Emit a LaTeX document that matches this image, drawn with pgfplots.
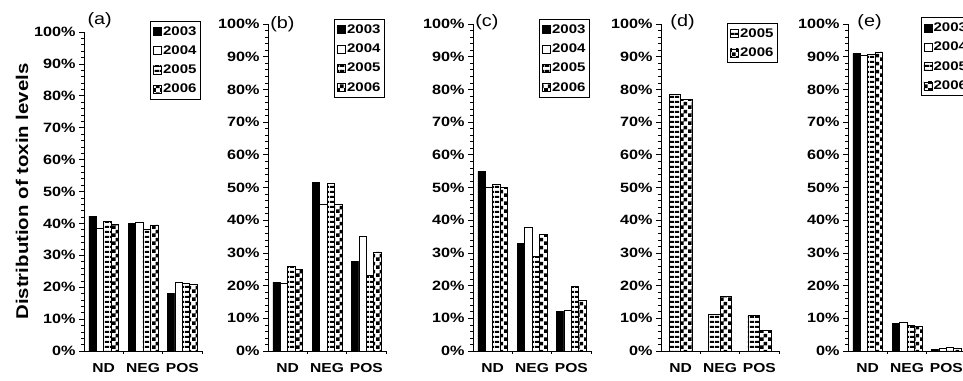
\documentclass[border=0pt]{standalone}
\usepackage{pgfplots}
\pgfplotsset{compat=1.18}
\usepackage{fontspec}
\setmainfont{Liberation Sans}[FakeStretch=1.2]
\usetikzlibrary{patterns}

\pgfdeclarepatternformonly{hstripes}{\pgfpointorigin}{\pgfqpoint{5pt}{4.6pt}}{\pgfqpoint{5pt}{4.6pt}}{\pgfpathrectangle{\pgfpointorigin}{\pgfqpoint{5pt}{2.4pt}}\pgfusepath{fill}}
\pgfdeclarepatternformonly{checker}{\pgfpointorigin}{\pgfqpoint{8pt}{8pt}}{\pgfqpoint{8pt}{8pt}}{\pgfpathrectangle{\pgfpointorigin}{\pgfqpoint{4pt}{4pt}}\pgfpathrectangle{\pgfqpoint{4pt}{4pt}}{\pgfqpoint{4pt}{4pt}}\pgfusepath{fill}}

\tikzset{plab/.style={anchor=west, font=\fontsize{16.5}{18}\selectfont}}

\pgfplotsset{
  panel/.style={
    scale only axis, width=118pt, height=327pt,
    ybar=0pt, bar width=7.4pt,
    xmin=-0.5, xmax=2.5, ymin=0, ymax=100,
    axis x line=bottom, axis y line=left,
    axis line style={-, line width=0.9pt},
    xtick={0,1,2}, xticklabels={ND,NEG,POS},
    major x tick style={draw=none},
    minor xtick={0.5,1.5,2.5},
    ytick={0,10,...,100},
    yticklabels={0\%,10\%,20\%,30\%,40\%,50\%,60\%,70\%,80\%,90\%,100\%},
    minor y tick num=4,
    tick align=outside, major tick length=5pt, minor tick length=3pt,
    tick style={black, line width=0.6pt},
    yticklabel style={font=\fontsize{13.5}{15}\selectfont\bfseries},
    xticklabel style={font=\fontsize{13}{15}\selectfont\bfseries, yshift=-4pt},
    legend style={anchor=north west, draw=black, line width=1pt,
      font=\fontsize{12.5}{14}\selectfont\bfseries, row sep=6pt,
      inner xsep=2.5pt, inner ysep=3.5pt, cells={anchor=west},
      nodes={inner sep=1.5pt}},
    legend cell align=left,
    clip=false,
  },
  limg/.style={legend image code/.code={\draw[##1, line width=0.5pt] (0pt,-4pt) rectangle (8pt,4pt);}},
  s03/.style={fill=black, draw=black, line width=0.5pt, limg},
  s04/.style={fill=white, draw=black, line width=0.5pt, limg},
  s05/.style={pattern=hstripes, draw=black, line width=0.5pt, limg},
  s06/.style={pattern=checker, draw=black, line width=0.5pt, limg},
}

\begin{document}
\begin{tikzpicture}[x=1pt,y=1pt]
\useasboundingbox (0,0) rectangle (963,380);

% (a)
\begin{axis}[panel, height=319pt, at={(84pt,29pt)}, anchor=south west,
  ylabel={Distribution of toxin levels},
  ylabel style={font=\fontsize{17}{19}\selectfont\bfseries, yshift=-1pt},
  legend style={at={(rel axis cs:0.56,1.035)}}]
\addplot[s03] coordinates {(0,42.3) (1,40.1) (2,18.0)};
\addplot[s04] coordinates {(0,38.5) (1,40.5) (2,21.6)};
\addplot[s05] coordinates {(0,40.6) (1,38.2) (2,21.3)};
\addplot[s06] coordinates {(0,39.8) (1,39.5) (2,20.8)};
\legend{2003,2004,2005,2006}
\node[plab] at (rel axis cs:0.0,1.037) {(a)};
\end{axis}

% (b)
\begin{axis}[panel, at={(268pt,29pt)}, anchor=south west,
  legend style={at={(rel axis cs:0.56,1.015)}}]
\addplot[s03] coordinates {(0,21.1) (1,51.5) (2,27.3)};
\addplot[s04] coordinates {(0,20.8) (1,44.8) (2,35.0)};
\addplot[s05] coordinates {(0,26.0) (1,51.2) (2,23.1)};
\addplot[s06] coordinates {(0,25.0) (1,44.8) (2,30.3)};
\legend{2003,2004,2005,2006}
\node[plab] at (rel axis cs:-0.01,1) {(b)};
\end{axis}

% (c)
\begin{axis}[panel, at={(473pt,29pt)}, anchor=south west,
  legend style={at={(rel axis cs:0.56,1.015)}}]
\addplot[s03] coordinates {(0,55.0) (1,32.8) (2,12.2)};
\addplot[s04] coordinates {(0,50.0) (1,37.8) (2,12.6)};
\addplot[s05] coordinates {(0,51.1) (1,29.0) (2,19.8)};
\addplot[s06] coordinates {(0,50.0) (1,35.6) (2,15.5)};
\legend{2003,2004,2005,2006}
\node[plab] at (rel axis cs:-0.01,1.006) {(c)};
\end{axis}

% (d)
\begin{axis}[panel, at={(661pt,29pt)}, anchor=south west, bar width=11.5pt,
  legend style={at={(rel axis cs:0.56,1.003)}}]
\addplot[s05] coordinates {(0,78.5) (1,11.3) (2,10.8)};
\addplot[s06] coordinates {(0,77.0) (1,16.8) (2,6.3)};
\legend{2005,2006}
\node[plab] at (rel axis cs:0.05,1.006) {(d)};
\end{axis}

% (e)
\begin{axis}[panel, at={(848pt,29pt)}, anchor=south west,
  legend style={at={(rel axis cs:0.615,1.02)}}]
\addplot[s03] coordinates {(0,91.0) (1,8.4) (2,0.6)};
\addplot[s04] coordinates {(0,90.3) (1,8.9) (2,0.9)};
\addplot[s05] coordinates {(0,90.8) (1,8.0) (2,1.1)};
\addplot[s06] coordinates {(0,91.5) (1,7.6) (2,0.8)};
\legend{2003,2004,2005,2006}
\node[plab] at (rel axis cs:0.05,1.005) {(e)};
\end{axis}
\end{tikzpicture}
\end{document}
